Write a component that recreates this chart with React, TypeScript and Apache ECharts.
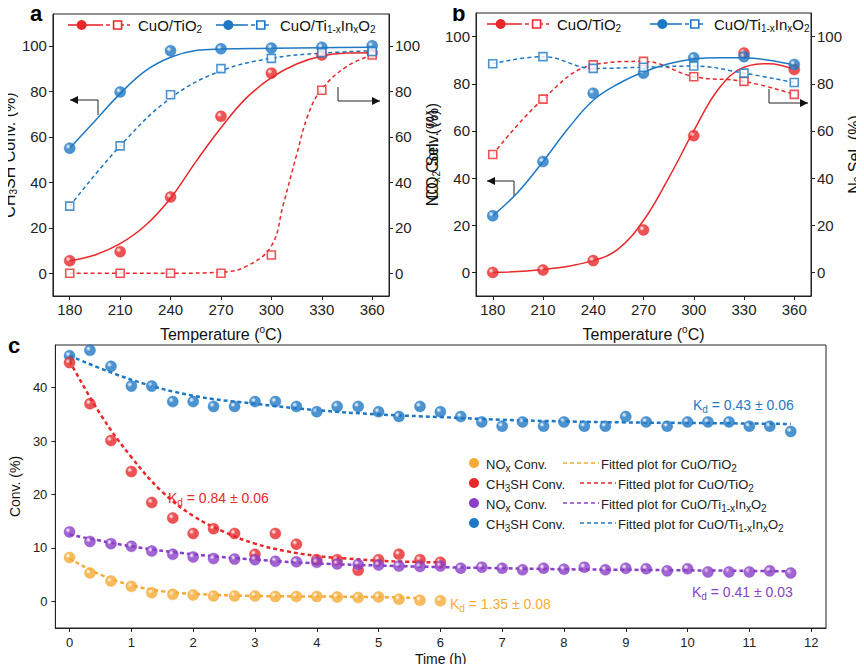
import * as echarts from "echarts";
import { useEffect, useRef } from "react";

// panel a / b temperatures
const temps = [180, 210, 240, 270, 300, 330, 360];
const aRedConv = [5.5, 9.5, 33.5, 69, 88, 96, 97];
const aRedSel = [0, 0, 0, 0, 8, 80.5, 96];
const aBlueConv = [55, 79.7, 97.8, 98.7, 99, 99.4, 100];
const aBlueSel = [29.5, 56, 78.5, 90, 94.5, 97, 97.5];
// fitted curves
const aRedConvFitX = [180, 195, 210, 225, 240, 255, 270, 285, 300, 315, 330, 345, 360];
const aRedConvFit = [5.5, 8, 13, 21, 33, 49, 64, 77, 86, 92, 95.5, 96.8, 97];
const aRedSelFitX = [180, 210, 240, 270, 285, 300, 307, 315, 322, 330, 345, 360];
const aRedSelFit = [0, 0, 0, 0.5, 3, 12, 30, 52, 70, 81, 91, 96];
const aBlueConvFitX = [180, 195, 210, 225, 240, 255, 270, 300, 330, 360];
const aBlueConvFit = [55, 67, 79, 89, 95, 98, 98.6, 98.9, 99.2, 99.4];
const aBlueSelFitX = [180, 210, 240, 270, 300, 330, 360];
const aBlueSelFit = [29.5, 56, 77, 89, 94.5, 96.8, 97.8];

const bRedConv = [0, 1, 5, 18, 58, 93, 86];
const bRedSel = [50, 73.5, 88, 89.5, 83, 81, 75.5];
const bBlueConv = [24, 47, 76, 84.5, 91, 91.5, 88.2];
const bBlueSel = [88.5, 91.5, 86.5, 87, 87.5, 84.5, 80.5];
const bRedConvFitX = [180, 210, 240, 255, 270, 285, 300, 315, 330, 345, 360];
const bRedConvFit = [0, 1.2, 5, 10, 22, 40, 60, 78, 87, 88.5, 86];
const bBlueConvFitX = [180, 195, 210, 225, 240, 255, 270, 285, 300, 315, 330, 345, 360];
const bBlueConvFit = [24, 34, 47, 61, 73, 80, 85, 88.5, 90.5, 91, 91, 90, 88];

// panel c
const times = [0, 0.33, 0.67, 1, 1.33, 1.67, 2, 2.33, 2.67, 3, 3.33, 3.67, 4, 4.33, 4.67, 5, 5.33, 5.67, 6,
  6.33, 6.67, 7, 7.33, 7.67, 8, 8.33, 8.67, 9, 9.33, 9.67, 10, 10.33, 10.67, 11, 11.33, 11.67];
const cBlue = [46, 47, 44, 40.3, 40.3, 37.4, 37.4, 36.5, 36.5, 37.4, 37.4, 36.5, 35.5, 36.5, 36.5, 35.5, 34.6, 36.5, 35.5,
  34.6, 33.6, 32.8, 33.6, 32.8, 33.6, 32.8, 32.8, 34.6, 33.6, 32.8, 33.6, 33.6, 33.6, 32.8, 32.8, 31.8];
const cRed = [44.7, 37, 30.1, 24.3, 18.5, 15.6, 12.7, 13.6, 12.7, 8.8, 12.7, 10.7, 7.8, 7.8, 5.8, 7.8, 8.8, 7.8, 7.3];
const cPurple = [13, 11.2, 10.8, 10.3, 9.4, 8.8, 8.3, 8.0, 7.9, 7.8, 7.5, 7.4, 7.3, 7.0, 6.9, 6.8, 6.6, 6.5, 6.6,
  6.2, 6.4, 6.2, 5.9, 6.2, 6.0, 6.4, 5.9, 6.2, 6.1, 5.7, 6.1, 5.5, 5.5, 5.5, 5.7, 5.3];
const cOrange = [8.2, 5.3, 3.8, 2.8, 1.6, 1.3, 1.2, 1.0, 1.0, 1.0, 0.9, 0.9, 0.9, 0.8, 0.7, 0.8, 0.4, 0.2, 0.1];
const cBlueFitX = [0, 1, 2, 3, 4, 5, 6, 7, 8, 9, 10, 11, 11.67];
const cBlueFit = [46, 41.5, 38.5, 37, 35.8, 35, 34.5, 34, 33.7, 33.5, 33.4, 33.3, 33.2];
const cRedFitX = [0, 0.5, 1, 1.5, 2, 2.5, 3, 3.5, 4, 4.5, 5, 5.5, 6];
const cRedFit = [45, 35, 27, 20.5, 16, 13, 10.8, 9.4, 8.5, 8, 7.6, 7.4, 7.3];
const cPurpleFitX = [0, 1, 2, 3, 4, 5, 6, 7, 8, 9, 10, 11, 11.67];
const cPurpleFit = [12.5, 10.3, 8.8, 7.8, 7.1, 6.7, 6.4, 6.2, 6.0, 5.9, 5.8, 5.7, 5.6];
const cOrangeFitX = [0, 0.5, 1, 1.5, 2, 3, 4, 5, 5.67];
const cOrangeFit = [8, 5, 3, 1.9, 1.4, 1.0, 0.9, 0.8, 0.6];

const RED = "#e8282b";
const BLUE = "#1f78c4";
const PURPLE = "#8a3fc6";
const ORANGE = "#f5ab35";
const FONT = "Liberation Sans";

const zip = (xs: number[], ys: number[]) => ys.map((y, i) => [xs[i], y]);

const ball = (c: string) => ({
  color: new echarts.graphic.RadialGradient(0.35, 0.35, 0.7, [
    { offset: 0, color: "#ffffff" },
    { offset: 0.35, color: c },
    { offset: 1, color: c },
  ]),
  borderColor: c,
  borderWidth: 0.5,
});

const rich = {
  sub: { fontSize: 10, verticalAlign: "bottom", padding: [8, 0, 0, 0], fontFamily: FONT },
  sup: { fontSize: 10, verticalAlign: "top", padding: [0, 0, 8, 0], fontFamily: FONT },
};

const App: React.FC = () => {
  const ref = useRef<HTMLDivElement>(null);

  useEffect(() => {
    const chart = echarts.init(ref.current!, null, { renderer: "svg" });

    const tempAxis = (gi: number) => ({
      type: "value", gridIndex: gi, min: 170, max: 370,
      name: "Temperature ({sup|o}C)", nameLocation: "middle", nameGap: 28,
      nameTextStyle: { fontSize: 16, fontFamily: FONT, color: "#111", rich: { sup: { fontSize: 10, verticalAlign: "top", padding: [0, 0, 10, 0] } } },
      axisLine: { onZero: false, lineStyle: { color: "#222" } },
      axisTick: { customValues: temps, length: 4, lineStyle: { color: "#222" } },
      axisLabel: { customValues: temps, fontSize: 15, color: "#222", fontFamily: FONT, margin: 6 },
      splitLine: { show: false },
    });
    const pctAxis = (gi: number, max: number, name: string, right: boolean, gap: number) => ({
      type: "value", gridIndex: gi, min: -10, max, position: right ? "right" : "left",
      name, nameLocation: "middle", nameGap: gap, nameRotate: 90,
      nameTextStyle: { fontSize: 16, fontFamily: FONT, color: "#111", rich },
      axisLine: { show: true, onZero: false, lineStyle: { color: "#222" } },
      axisTick: { show: true, customValues: [0, 20, 40, 60, 80, 100], length: 4, lineStyle: { color: "#222" } },
      axisLabel: { customValues: [0, 20, 40, 60, 80, 100], fontSize: 15, color: "#222", fontFamily: FONT, margin: 6 },
      splitLine: { show: false },
    });

    const pts = (xi: number, yi: number, data: number[][], c: string, sq = false) => ({
      type: "scatter", xAxisIndex: xi, yAxisIndex: yi, data, z: 5,
      symbol: sq ? "rect" : "circle", symbolSize: sq ? 8 : 11,
      itemStyle: sq ? { color: "#fff", borderColor: c, borderWidth: 1.6 } : ball(c),
    });
    const fit = (xi: number, yi: number, data: number[][], c: string, dashed: boolean, w = 1.5) => ({
      type: "line", xAxisIndex: xi, yAxisIndex: yi, data, smooth: 0.4, symbol: "none",
      lineStyle: { color: c, width: w, type: dashed ? [4, 3] : "solid" },
    });

    const txt = (x: number, y: number, t: string, c = "#111", size = 15) => ({
      type: "text", x, y,
      style: { text: t, fill: c, fontSize: size, fontFamily: FONT, rich: { sub: { ...rich.sub, fill: c } } },
    });
    const seg = (x1: number, y1: number, x2: number, y2: number, c: string, dash = false) => ({
      type: "line", shape: { x1, y1, x2, y2 }, style: { stroke: c, lineWidth: 1.6, lineDash: dash ? [4, 3] : null },
    });
    const legendItem = (x: number, y: number, w: number, c: string, label: string) => [
      seg(x, y, x + w / 2, y, c),
      seg(x + w / 2, y, x + w, y, c, true),
      { type: "circle", shape: { cx: x + w * 0.22, cy: y, r: 5 }, style: { fill: c } },
      { type: "rect", shape: { x: x + w * 0.8 - 4, y: y - 4, width: 8, height: 8 }, style: { fill: "#fff", stroke: c, lineWidth: 1.6 } },
      txt(x + w + 8, y - 9, label),
    ];
    const arrow = (pts: number[][], dir: "l" | "r") => {
      const [ex, ey] = pts[pts.length - 1];
      const h = dir === "l" ? [[ex, ey], [ex + 8, ey - 4], [ex + 8, ey + 4]] : [[ex, ey], [ex - 8, ey - 4], [ex - 8, ey + 4]];
      return [
        { type: "polyline", shape: { points: pts }, style: { stroke: "#222", lineWidth: 1, fill: null } },
        { type: "polygon", shape: { points: h }, style: { fill: "#111" } },
      ];
    };

    const option = {
      animation: false,
      backgroundColor: "#fff",
      grid: [
        { left: 52, top: 14, width: 337, height: 282, show: true, borderColor: "#222", borderWidth: 1 },
        { left: 476, top: 13, width: 339, height: 283, show: true, borderColor: "#222", borderWidth: 1 },
        { left: 52, top: 345, width: 774, height: 283, show: true, borderColor: "#222", borderWidth: 1 },
      ],
      xAxis: [
        tempAxis(0),
        tempAxis(1),
        {
          type: "value", gridIndex: 2, min: -0.23, max: 12.24,
          name: "Time (h)", nameLocation: "middle", nameGap: 24,
          nameTextStyle: { fontSize: 14, fontFamily: FONT, color: "#111" },
          axisLine: { onZero: false, lineStyle: { color: "#222" } },
          axisTick: { customValues: [0, 1, 2, 3, 4, 5, 6, 7, 8, 9, 10, 11, 12], length: 4, lineStyle: { color: "#222" } },
          axisLabel: { customValues: [0, 1, 2, 3, 4, 5, 6, 7, 8, 9, 10, 11, 12], fontSize: 13, color: "#222", fontFamily: FONT },
          splitLine: { show: false },
        },
      ],
      yAxis: [
        pctAxis(0, 114, "CH{sub|3}SH Conv. (%)", false, 32),
        pctAxis(0, 114, "CO{sub|2} Sel. (%)", true, 34),
        pctAxis(1, 110, "NO{sub|x} Conv. (%)", false, 29),
        pctAxis(1, 110, "N{sub|2} Sel. (%)", true, 34),
        {
          type: "value", gridIndex: 2, min: -5, max: 48,
          name: "Conv. (%)", nameLocation: "middle", nameGap: 30, nameRotate: 90,
          nameTextStyle: { fontSize: 14, fontFamily: FONT, color: "#111" },
          axisLine: { show: true, onZero: false, lineStyle: { color: "#222" } },
          axisTick: { show: true, customValues: [0, 10, 20, 30, 40], length: 4, lineStyle: { color: "#222" } },
          axisLabel: { customValues: [0, 10, 20, 30, 40], fontSize: 13, color: "#222", fontFamily: FONT },
          splitLine: { show: false },
        },
      ],
      series: [
        // panel a
        fit(0, 0, zip(aRedConvFitX, aRedConvFit), RED, false),
        fit(0, 0, zip(aRedSelFitX, aRedSelFit), RED, true),
        fit(0, 0, zip(aBlueConvFitX, aBlueConvFit), BLUE, false),
        fit(0, 0, zip(aBlueSelFitX, aBlueSelFit), BLUE, true),
        pts(0, 0, zip(temps, aRedConv), RED),
        pts(0, 0, zip(temps, aRedSel), RED, true),
        pts(0, 0, zip(temps, aBlueConv), BLUE),
        pts(0, 0, zip(temps, aBlueSel), BLUE, true),
        // panel b
        fit(1, 2, zip(bRedConvFitX, bRedConvFit), RED, false),
        fit(1, 2, zip(temps, bRedSel), RED, true),
        fit(1, 2, zip(bBlueConvFitX, bBlueConvFit), BLUE, false),
        fit(1, 2, zip(temps, bBlueSel), BLUE, true),
        pts(1, 2, zip(temps, bRedConv), RED),
        pts(1, 2, zip(temps, bRedSel), RED, true),
        pts(1, 2, zip(temps, bBlueConv), BLUE),
        pts(1, 2, zip(temps, bBlueSel), BLUE, true),
        // panel c
        fit(2, 4, zip(cBlueFitX, cBlueFit), BLUE, true, 2.5),
        fit(2, 4, zip(cRedFitX, cRedFit), RED, true, 2.5),
        fit(2, 4, zip(cPurpleFitX, cPurpleFit), PURPLE, true, 2.5),
        fit(2, 4, zip(cOrangeFitX, cOrangeFit), ORANGE, true, 2.5),
        pts(2, 4, zip(times, cBlue), BLUE),
        pts(2, 4, zip(times, cRed), RED),
        pts(2, 4, zip(times, cPurple), PURPLE),
        pts(2, 4, zip(times, cOrange), ORANGE),
      ],
      graphic: [
        { type: "text", x: 30, y: 2, style: { text: "a", fontSize: 22, fontWeight: "bold", fontFamily: FONT, fill: "#000" } },
        { type: "text", x: 452, y: 2, style: { text: "b", fontSize: 22, fontWeight: "bold", fontFamily: FONT, fill: "#000" } },
        { type: "text", x: 8, y: 334, style: { text: "c", fontSize: 22, fontWeight: "bold", fontFamily: FONT, fill: "#000" } },
        ...legendItem(68, 25, 62, RED, "CuO/TiO{sub|2}"),
        ...legendItem(216, 25, 56, BLUE, "CuO/Ti{sub|1-x}In{sub|x}O{sub|2}"),
        ...legendItem(487, 24, 62, RED, "CuO/TiO{sub|2}"),
        ...legendItem(650, 24, 56, BLUE, "CuO/Ti{sub|1-x}In{sub|x}O{sub|2}"),
        ...arrow([[98, 115], [98, 100], [70, 100]], "l"),
        ...arrow([[338, 87], [338, 101], [380, 101]], "r"),
        ...arrow([[514, 196], [514, 181], [487, 181]], "l"),
        ...arrow([[769, 89], [769, 103], [808, 103]], "r"),
        // panel c legend
        ...[
          [ORANGE, "NO{sub|x} Conv.", 563, "Fitted plot for CuO/TiO{sub|2}"],
          [RED, "CH{sub|3}SH Conv.", 580, "Fitted plot for CuO/TiO{sub|2}"],
          [PURPLE, "NO{sub|x} Conv.", 563, "Fitted plot for CuO/Ti{sub|1-x}In{sub|x}O{sub|2}"],
          [BLUE, "CH{sub|3}SH Conv.", 580, "Fitted plot for CuO/Ti{sub|1-x}In{sub|x}O{sub|2}"],
        ].flatMap(([c, a, dx, b]: any, i) => {
          const y = 463 + i * 20;
          return [
            { type: "circle", shape: { cx: 474, cy: y, r: 5 }, style: { fill: c } },
            txt(486, y - 8, a, "#222", 13),
            seg(dx, y, dx + 36, y, c, true),
            txt(dx + 38, y - 8, b, "#222", 13),
          ];
        }),
        txt(693, 396, "K{sub|d} = 0.43 ± 0.06", BLUE, 14),
        txt(168, 489, "K{sub|d} = 0.84 ± 0.06", RED, 14),
        txt(692, 583, "K{sub|d} = 0.41 ± 0.03", PURPLE, 14),
        txt(450, 595, "K{sub|d} = 1.35 ± 0.08", ORANGE, 14),
      ],
    };

    chart.setOption(option as any);
    return () => chart.dispose();
  }, []);

  return <div ref={ref} style={{ width: 864, height: 672, margin: -8 }} />;
};

export default App;
